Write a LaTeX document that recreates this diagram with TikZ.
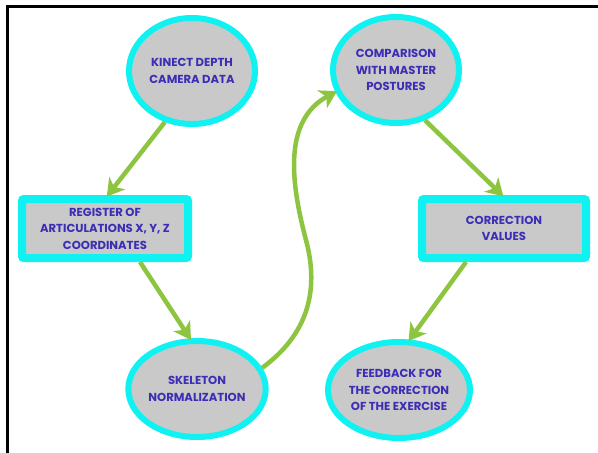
\documentclass[tikz,border=0pt]{standalone}
\usepackage{fontspec}
\setmainfont{Poppins}[BoldFont={* Bold}]
\usetikzlibrary{shapes.geometric,arrows.meta}
\definecolor{ring}{HTML}{10F2F2}
\definecolor{ringin}{HTML}{4FE6E6}
\definecolor{boxfill}{HTML}{C9C9C9}
\definecolor{txt}{HTML}{3B2DB5}
\definecolor{arr}{HTML}{8DC540}
\tikzset{
  lbl/.style={font=\fontsize{11.6}{16.5}\selectfont\bfseries, text=txt, align=center},
  oval/.style={ellipse, lbl, fill=boxfill, draw=ring, line width=6pt, inner sep=0pt},
  boxnode/.style={rectangle, lbl, fill=boxfill, draw=ring, line width=8pt, rounded corners=2pt, inner sep=0pt},
  flow/.style={draw=arr, line width=4.5pt, -{Stealth[length=17pt,width=20pt,inset=5pt]}, shorten >=-2pt},
}
\begin{document}
\begin{tikzpicture}[x=1pt,y=-1pt]
\useasboundingbox (0,0) rectangle (598,453);
\fill[white] (0,0) rectangle (598,453);
\draw[black, line width=2.2pt] (7.5,453) -- (7.5,6.5) -- (598,6.5);

\node[oval, minimum width=126pt, minimum height=106pt] (kin) at (192,71) {KINECT DEPTH\\CAMERA DATA};
\node[oval, minimum width=126pt, minimum height=106pt] (cmp) at (396,70) {COMPARISON\\WITH MASTER\\POSTURES};
\node[boxnode, minimum width=166pt, minimum height=59pt] (reg) at (105,228.5) {REGISTER OF\\ARTICULATIONS X, Y, Z\\COORDINATES};
\node[boxnode, minimum width=164pt, minimum height=59pt] (cor) at (504,228.5) {CORRECTION\\VALUES};
\node[oval, minimum width=134pt, minimum height=96pt] (ske) at (197,389) {SKELETON\\NORMALIZATION};
\node[oval, minimum width=132pt, minimum height=96pt] (fee) at (399,390) {FEEDBACK FOR\\THE CORRECTION\\OF THE EXERCISE};

\draw[flow] (kin.-118) -- (reg.north -| 108,0);
\draw[flow] (reg.south -| 140,0) -- (ske.98);
\draw[flow] (ske.18) .. controls (300,340) and (322,300) .. (306,240)
            .. controls (290,180) and (284,120) .. (cmp.200);
\draw[flow] (cmp.-60) -- (cor.north -| 502,0);
\draw[flow] (cor.south -| 466,0) -- (fee.78);
\end{tikzpicture}
\end{document}
